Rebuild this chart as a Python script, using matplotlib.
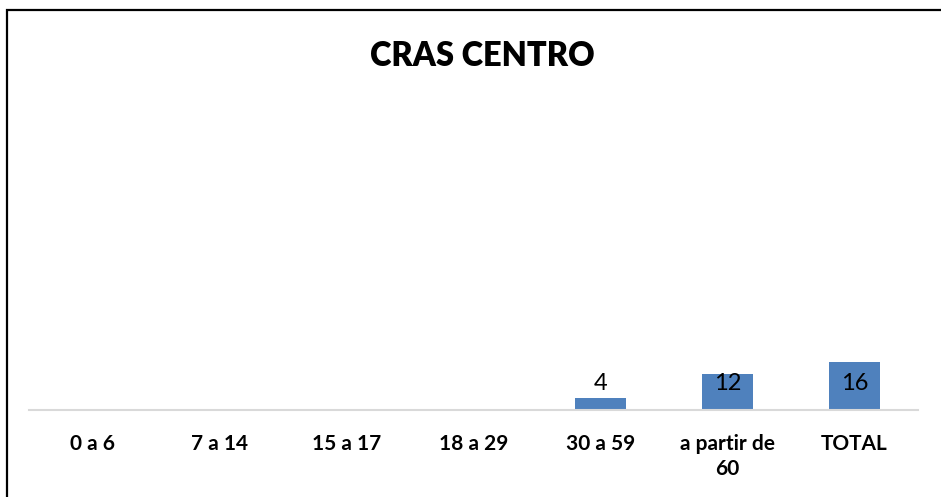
import matplotlib
matplotlib.use("Agg")
import matplotlib.pyplot as plt
from matplotlib.patches import Rectangle

# chart data
categories = ["0 a 6", "7 a 14", "15 a 17", "18 a 29", "30 a 59",
              "a partir de\n60", "TOTAL"]
values = [0, 0, 0, 0, 4, 12, 16]
title = "CRAS CENTRO"

plt.rcParams['font.family'] = ['Lato', 'DejaVu Sans']

W, H = 941, 497
fig = plt.figure(figsize=(W / 100, H / 100), dpi=100)

# outer frame (cut off on right and bottom like the reference)
fig.patches.append(Rectangle((7 / W, -0.1), 1.2, 1 - 10 / H + 0.1,
                             transform=fig.transFigure, fill=False,
                             edgecolor="black", linewidth=1.6))

ax = fig.add_axes([29 / W, 87 / H, 889 / W, 300 / H])
x = range(len(categories))
ax.bar(x, values, width=0.4, color="#4F81BD")
ax.set_xlim(-0.5, len(categories) - 0.5)
ax.set_ylim(0, 100)

# value labels, all sitting at the same height as in the reference
for xi, v in zip(x, values):
    if v > 0:
        ax.text(xi, 9, str(v), ha="center", va="center", fontsize=17,
                color="black")

for s in ["top", "right", "left"]:
    ax.spines[s].set_visible(False)
ax.spines["bottom"].set_color("#D9D9D9")
ax.spines["bottom"].set_linewidth(1.5)
ax.set_yticks([])
ax.set_xticks(list(x))
ax.set_xticklabels(categories, fontsize=15, fontweight="bold",
                   linespacing=1.35, va="top")
ax.tick_params(axis="x", length=0, pad=17)

fig.text(482 / W, 1 - 56 / H, title, ha="center", va="center",
         fontsize=23.5, fontweight="heavy")

fig.savefig("out.png", dpi=100)
